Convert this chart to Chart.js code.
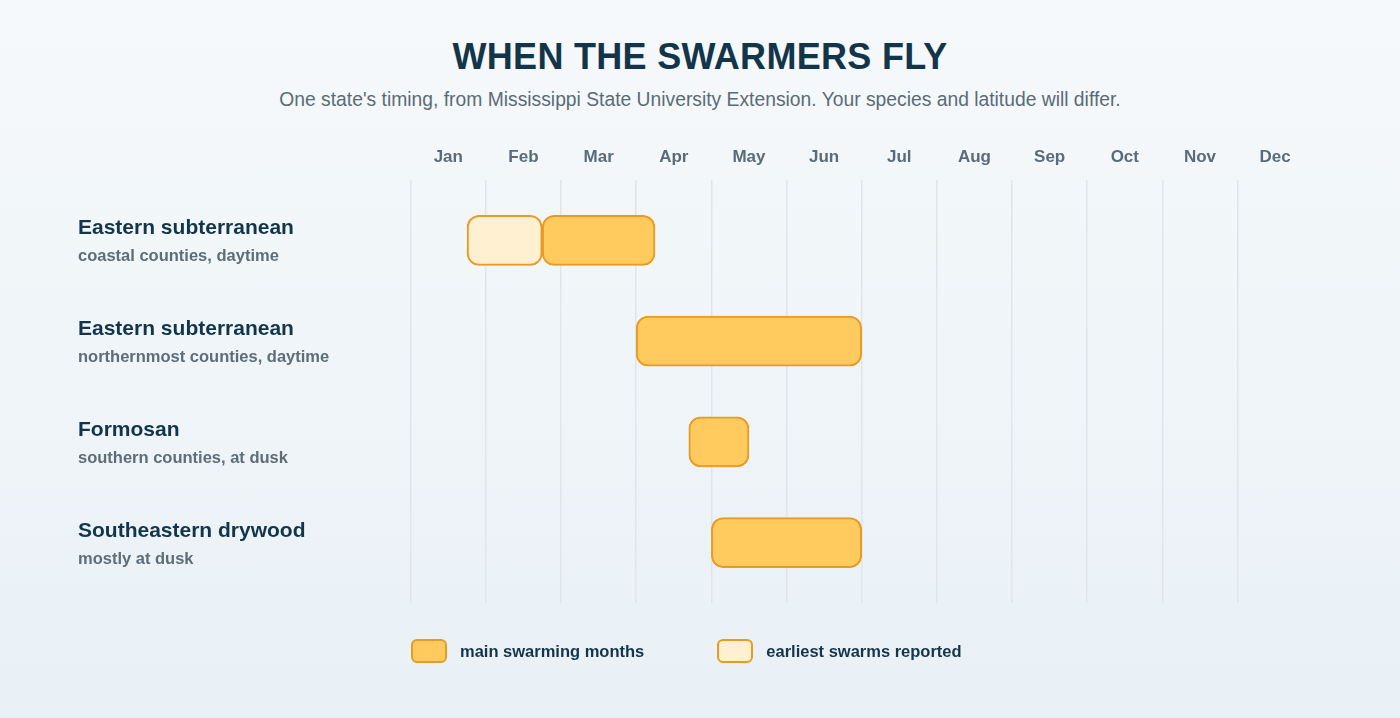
<!DOCTYPE html>
<html>
<head>
<meta charset="utf-8">
<script src="https://cdn.jsdelivr.net/npm/chart.js@4.4.1/dist/chart.umd.min.js"></script>
<style>
  html, body { margin: 0; padding: 0; }
  body {
    width: 1400px; height: 718px; overflow: hidden; position: relative;
    background: linear-gradient(180deg, #f6f9fb 0%, #e9f1f6 100%);
    font-family: 'Liberation Sans', Arial, sans-serif;
  }
  h1 {
    position: absolute; left: 0; right: 0; top: 39px; margin: 0;
    text-align: center; font-size: 36px; line-height: 36px; font-weight: 700;
    color: #12354a; letter-spacing: 0.3px;
  }
  .sub {
    position: absolute; left: 0; right: 0; top: 90px; margin: 0;
    text-align: center; font-size: 19.3px; line-height: 19.3px; color: #5b6b76;
  }
  #wrap { position: absolute; left: 0; top: 0; width: 1400px; height: 718px; }
  #legend {
    position: absolute; left: 411px; top: 639px; display: flex; align-items: center;
  }
  .item { display: flex; align-items: center; margin-right: 73px; }
  .box { width: 32px; height: 20px; border-radius: 6px; border: 2px solid #e99a22; }
  .lbl { margin-left: 13px; font-size: 16.5px; font-weight: 700; color: #15354a; }
</style>
</head>
<body>
<h1>WHEN THE SWARMERS FLY</h1>
<p class="sub">One state's timing, from Mississippi State University Extension. Your species and latitude will differ.</p>
<div id="wrap"><canvas id="chart"></canvas></div>
<div id="legend"></div>
<script>
// Meses (0 = inicio de enero, 12 = fin de diciembre)
const months = ['Jan', 'Feb', 'Mar', 'Apr', 'May', 'Jun', 'Jul', 'Aug', 'Sep', 'Oct', 'Nov', 'Dec'];

// Filas
const rowNames = ['Eastern subterranean', 'Eastern subterranean', 'Formosan', 'Southeastern drywood'];
const rowNotes = ['coastal counties, daytime', 'northernmost counties, daytime', 'southern counties, at dusk', 'mostly at dusk'];

// Rangos [inicio, fin] en meses
const mainMonths = [[1.75, 3.25], [3.0, 6.0], [3.7, 4.5], [4.0, 6.0]];
const earliestMonths = [[0.75, 1.75], null, null, null];

const toPoints = ranges => ranges
    .map((r, i) => r ? { x: r, y: i } : null)
    .filter(p => p);

// Etiquetas de fila a la izquierda, posicionadas con la escala Y
const rowLabels = {
    id: 'rowLabels',
    afterDraw(chart) {
        const ctx = chart.ctx;
        const y = chart.scales.y;
        ctx.save();
        ctx.textAlign = 'left';
        ctx.textBaseline = 'alphabetic';
        rowNames.forEach((name, i) => {
            const cy = y.getPixelForValue(i);
            ctx.fillStyle = '#12354a';
            ctx.font = "700 21px 'Liberation Sans', Arial, sans-serif";
            ctx.fillText(name, 78, cy - 6);
            ctx.fillStyle = '#5e6d78';
            ctx.font = "700 16.5px 'Liberation Sans', Arial, sans-serif";
            ctx.fillText(rowNotes[i], 78, cy + 21);
        });
        ctx.restore();
    }
};

const ctx = document.getElementById('chart').getContext('2d');
const chart = new Chart(ctx, {
    type: 'bar',
    data: {
        datasets: [{
            label: 'main swarming months',
            data: toPoints(mainMonths),
            backgroundColor: '#ffcb5e',
            borderColor: '#e99a22'
        }, {
            label: 'earliest swarms reported',
            data: toPoints(earliestMonths),
            backgroundColor: '#fff0d2',
            borderColor: '#e99a22'
        }]
    },
    options: {
        indexAxis: 'y',
        responsive: true,
        maintainAspectRatio: false,
        animation: false,
        layout: {
            padding: { left: 410.7, right: 87.3, top: 120, bottom: 115 }
        },
        datasets: {
            bar: {
                grouped: false,
                barThickness: 50,
                borderWidth: 2,
                borderRadius: 12,
                borderSkipped: false
            }
        },
        scales: {
            x: {
                type: 'linear',
                position: 'top',
                min: 0,
                max: 12,
                offset: false,
                border: { display: false },
                grid: {
                    drawTicks: false,
                    lineWidth: 1.5,
                    color: c => c.tick && c.tick.value === 12 ? 'rgba(0,0,0,0)' : '#dfe5ea'
                },
                ticks: {
                    stepSize: 1,
                    labelOffset: 37.6,
                    padding: 12,
                    color: '#5b6b77',
                    font: { family: "'Liberation Sans', Arial, sans-serif", size: 17, weight: '700' },
                    callback: v => months[v] || ''
                },
                afterFit: scale => { scale.height = 60; }
            },
            y: {
                type: 'linear',
                display: false,
                offset: false,
                reverse: true,
                min: -0.6,
                max: 3.6
            }
        },
        plugins: {
            legend: { display: false },
            tooltip: { enabled: false }
        }
    },
    plugins: [rowLabels]
});

// Leyenda HTML a partir de los datasets
const legend = document.getElementById('legend');
chart.data.datasets.forEach(ds => {
    const item = document.createElement('div');
    item.className = 'item';
    item.innerHTML = `<span class="box" style="background:${ds.backgroundColor};border-color:${ds.borderColor}"></span><span class="lbl">${ds.label}</span>`;
    legend.appendChild(item);
});
</script>
</body>
</html>
